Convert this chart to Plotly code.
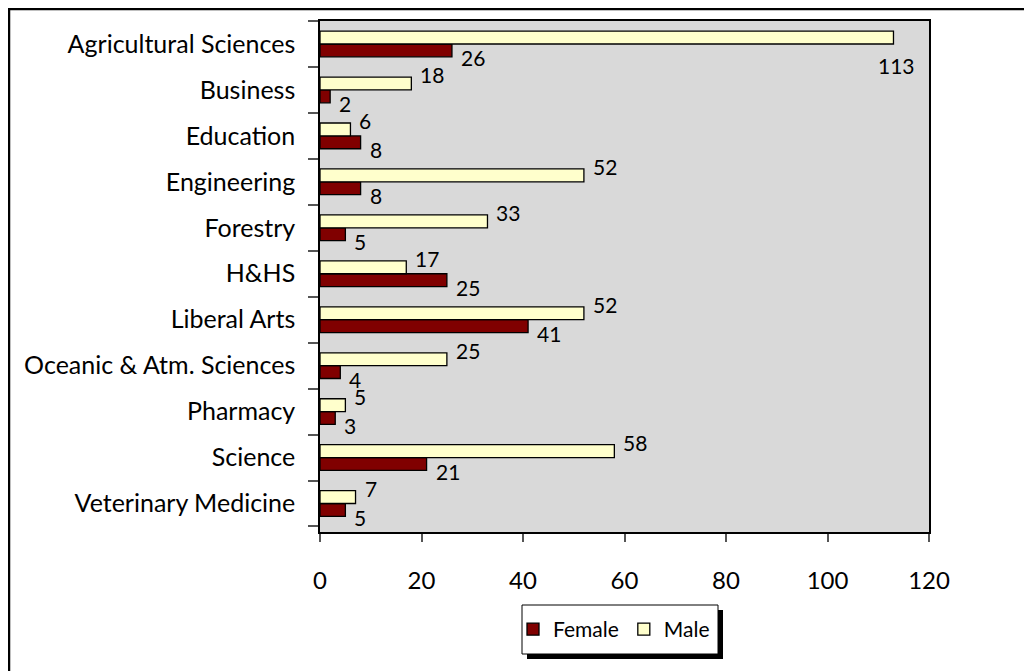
import plotly.graph_objects as go

# data
categories = [
    "Agricultural Sciences", "Business", "Education", "Engineering", "Forestry",
    "H&HS", "Liberal Arts", "Oceanic & Atm. Sciences", "Pharmacy", "Science",
    "Veterinary Medicine",
]
female = [26, 2, 8, 8, 5, 25, 41, 4, 3, 21, 5]
male = [113, 18, 6, 52, 33, 17, 52, 25, 5, 58, 7]
x_ticks = [0, 20, 40, 60, 80, 100, 120]

FONT = "Gill Sans, Gill Sans MT, Lato, sans-serif"
FEMALE_COLOR = "#800000"
MALE_COLOR = "#FFFFCC"

# figure is placed at (8, 8) on the page by the body margin
OFF = 8
FIG_W, FIG_H = 1024, 663
# plot area spans page x 320..929, y 21..532
L, T = 320 - OFF, 21 - OFF
R, B = FIG_W - (929 - OFF), FIG_H - (532 - OFF)
W, H = FIG_W - L - R, FIG_H - T - B


def px_x(p):
    return (p - OFF - L) / W


def px_y(p):
    return (FIG_H - B - (p - OFF)) / H


fig = go.Figure()
fig.add_trace(go.Bar(
    y=categories, x=female, name="Female", orientation="h",
    marker=dict(color=FEMALE_COLOR, line=dict(color="black", width=1.3)),
))
fig.add_trace(go.Bar(
    y=categories, x=male, name="Male", orientation="h",
    marker=dict(color=MALE_COLOR, line=dict(color="black", width=1.3)),
))

# value labels, Excel-style offsets
label_font = dict(size=21, color="black", family=FONT)
annotations = []
for cat, f, m in zip(categories, female, male):
    annotations.append(dict(x=f, y=cat, xref="x", yref="y", text=str(f),
                            showarrow=False, xanchor="left", xshift=7, yshift=-14,
                            font=label_font))
    if m > 100:
        # label pushed back inside the plot area
        annotations.append(dict(x=m, y=cat, xref="x", yref="y", text=str(m),
                                showarrow=False, xanchor="center", xshift=3, yshift=-22,
                                font=label_font))
    else:
        annotations.append(dict(x=m, y=cat, xref="x", yref="y", text=str(m),
                                showarrow=False, xanchor="left", xshift=7, yshift=15,
                                font=label_font))

shapes = [
    # outer chart frame (runs off the right and bottom of the page)
    dict(type="rect", xref="paper", yref="paper",
         x0=px_x(9), x1=px_x(1050), y0=px_y(690), y1=px_y(9),
         line=dict(color="black", width=2.5), fillcolor="rgba(0,0,0,0)", layer="below"),
    # legend drop shadow
    dict(type="rect", xref="paper", yref="paper",
         x0=px_x(527), x1=px_x(723), y0=px_y(659), y1=px_y(610),
         line=dict(width=0), fillcolor="black", layer="above"),
    # legend box
    dict(type="rect", xref="paper", yref="paper",
         x0=px_x(522), x1=px_x(718), y0=px_y(654), y1=px_y(605),
         line=dict(color="black", width=1), fillcolor="white", layer="above"),
]

fig.update_layout(
    width=FIG_W, height=FIG_H,
    margin=dict(l=L, r=R, t=T, b=B),
    paper_bgcolor="white",
    plot_bgcolor="#d9d9d9",
    font=dict(family=FONT, size=24, color="black"),
    barmode="group",
    bargap=0.44,
    bargroupgap=0,
    showlegend=True,
    legend=dict(
        orientation="h", x=px_x(614), xanchor="center", y=px_y(629.5), yanchor="middle",
        bgcolor="rgba(0,0,0,0)", borderwidth=0,
        font=dict(size=21, family=FONT), itemwidth=30,
    ),
    annotations=annotations,
    shapes=shapes,
)

fig.update_xaxes(
    range=[0, 120], tickvals=x_ticks, showgrid=False, zeroline=False,
    showline=True, linecolor="black", linewidth=1.5, mirror=True,
    ticks="outside", ticklen=8, tickcolor="#555555", tickwidth=1.5,
    ticklabelstandoff=18, tickfont=dict(size=24),
)
fig.update_yaxes(
    categoryorder="array", categoryarray=categories[::-1],
    showgrid=False, zeroline=False,
    showline=True, linecolor="black", linewidth=1.5, mirror=True,
    ticks="outside", ticklen=10, tickcolor="#555555", tickwidth=1.5,
    tickson="boundaries", ticklabelstandoff=18, tickfont=dict(size=25),
)

fig.write_html("out.html")
